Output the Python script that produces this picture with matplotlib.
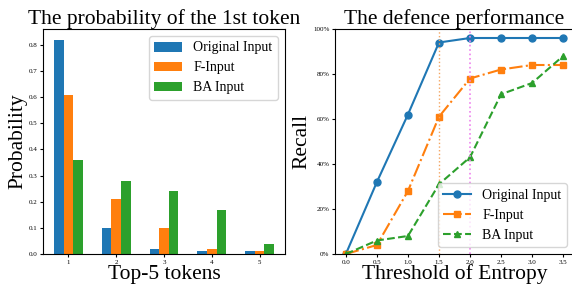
import matplotlib
matplotlib.use("Agg")
import matplotlib.pyplot as plt
import numpy as np
from matplotlib.ticker import PercentFormatter

plt.rcParams["font.family"] = ["Liberation Serif", "DejaVu Serif"]

# Left panel: probability of the 1st token
tokens = [1, 2, 3, 4, 5]
prob_original = [0.82, 0.10, 0.02, 0.01, 0.01]
prob_f = [0.61, 0.21, 0.10, 0.02, 0.01]
prob_ba = [0.36, 0.28, 0.24, 0.17, 0.04]

# Right panel: defence performance
thresholds = [0.0, 0.5, 1.0, 1.5, 2.0, 2.5, 3.0, 3.5]
recall_original = [0.0, 0.32, 0.62, 0.94, 0.96, 0.96, 0.96, 0.96]
recall_f = [0.0, 0.04, 0.28, 0.61, 0.78, 0.82, 0.84, 0.84]
recall_ba = [0.0, 0.06, 0.08, 0.31, 0.43, 0.71, 0.76, 0.88]

labels = ["Original Input", "F-Input", "BA Input"]

fig = plt.figure(figsize=(5.72, 2.86), dpi=100)
W, H = 572, 286
ax1 = fig.add_axes([43 / W, 1 - 254 / H, 242 / W, 225 / H])
ax2 = fig.add_axes([335 / W, 1 - 254 / H, 239 / W, 225 / H])

x = np.array(tokens)
w = 0.2
ax1.bar(x - w, prob_original, w, label=labels[0])
ax1.bar(x, prob_f, w, label=labels[1])
ax1.bar(x + w, prob_ba, w, label=labels[2])
ax1.set_xticks(tokens)
ax1.tick_params(labelsize=5, pad=1.5, length=2.5)
ax1.set_title("The probability of the 1st token", fontsize=15.5, pad=2)
ax1.set_xlabel("Top-5 tokens", fontsize=15.5, labelpad=0)
ax1.set_ylabel("Probability", fontsize=15.5, labelpad=1)
ax1.legend(fontsize=10, loc="upper right")

ax2.plot(thresholds, recall_original, "o-", markersize=5, label=labels[0])
ax2.plot(thresholds, recall_f, "s-.", markersize=5, label=labels[1])
ax2.plot(thresholds, recall_ba, "^--", markersize=5, label=labels[2])
ax2.axvline(1.5, color="sandybrown", linestyle=":", linewidth=1)
ax2.axvline(2.0, color="violet", linestyle=":", linewidth=1.2)
ax2.set_ylim(0, 1.0)
ax2.set_yticks([0, 0.2, 0.4, 0.6, 0.8, 1.0])
ax2.yaxis.set_major_formatter(PercentFormatter(1.0, decimals=0))
ax2.tick_params(labelsize=5, pad=1.5, length=2.5)
ax2.set_title("The defence performance", fontsize=15.5, pad=2)
ax2.set_xlabel("Threshold of Entropy", fontsize=15.5, labelpad=0)
ax2.set_ylabel("Recall", fontsize=15.5, labelpad=1)
ax2.legend(fontsize=10, loc="lower right")

fig.savefig("out.png", dpi=100)
